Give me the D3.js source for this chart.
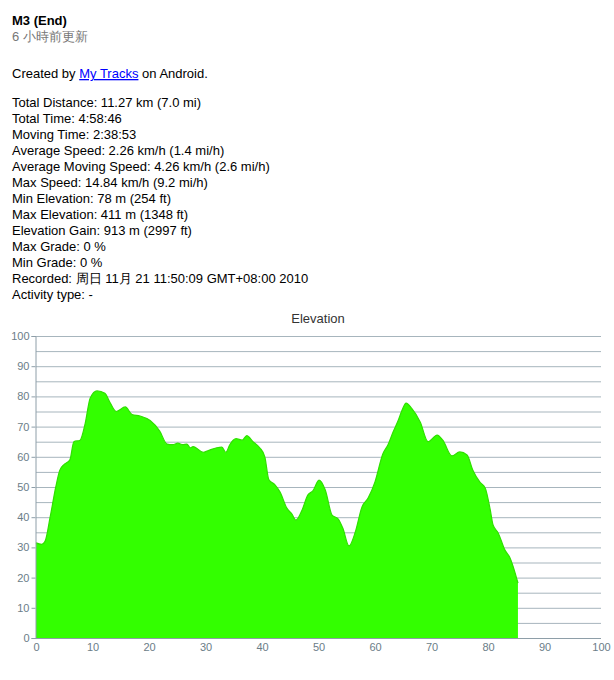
<!DOCTYPE html>
<html><head><meta charset="utf-8">
<script src="https://cdn.jsdelivr.net/npm/d3@7"></script>
<style>body{margin:0;background:#fff;} svg{display:block;}</style>
</head><body>
<svg id="c" width="614" height="680"></svg>
<script>
const title = "M3 (End)";
const subtitle = "6 小時前更新";
const statLines = [
  "Total Distance: 11.27 km (7.0 mi)",
  "Total Time: 4:58:46",
  "Moving Time: 2:38:53",
  "Average Speed: 2.26 km/h (1.4 mi/h)",
  "Average Moving Speed: 4.26 km/h (2.6 mi/h)",
  "Max Speed: 14.84 km/h (9.2 mi/h)",
  "Min Elevation: 78 m (254 ft)",
  "Max Elevation: 411 m (1348 ft)",
  "Elevation Gain: 913 m (2997 ft)",
  "Max Grade: 0 %",
  "Min Grade: 0 %",
  "Recorded: 周日 11月 21 11:50:09 GMT+08:00 2010",
  "Activity type: -"
];
const chartTitle = "Elevation";
const xTicks = [0,10,20,30,40,50,60,70,80,90,100];
const yTicks = [0,10,20,30,40,50,60,70,80,90,100];
const distance = [0,1,1.6,2.5,3.5,4.2,5,6,6.7,7.8,8.7,9.6,10.8,12.2,13.1,14.2,15.8,17,18.4,20.2,21.9,23.2,24.2,25.1,26,26.7,27.3,27.8,29.6,30.4,32,32.9,33.6,34.3,35.4,36.5,37.3,38.4,39.6,40.5,41.2,42.3,43.2,44.4,45.3,46,47.1,48.1,49,50.1,51.2,52.4,53.5,54.3,55.4,56.5,57.7,58.8,60,61.4,62.3,63.2,64.1,64.8,65.5,66.5,68,69.4,71,72,73.6,75,76.3,77.3,78.6,79.5,80.4,80.9,81.8,83,83.9,85.3];
const elevation = [31.5,31,32,40,50,55.5,57.5,59,65,65.5,71,79.5,81.8,81,78,75,76.5,74,73.5,72,68.5,64.2,64,64.5,64,64.2,63,63.4,61.5,62,63,63.2,61.5,64,66,65.5,67,65,63,60,52.5,50.7,48.3,43,41,39,42.4,47.3,48.7,52.3,49,40.7,39.4,36.4,30.5,35,43.4,46.4,51.7,61,64,68.2,72,75.5,77.8,76,71.5,65,67.2,65.5,60.3,61.6,60.6,55.6,51.5,49.7,42.4,37.4,34.8,29.1,26.5,18.2];

const svg = d3.select("#c");
const font = "Arial, 'Liberation Sans', sans-serif";

svg.append("text").attr("x",12).attr("y",25).attr("font-family",font).attr("font-size",13).attr("font-weight","bold").attr("fill","#000").text(title);
svg.append("text").attr("x",12).attr("y",41).attr("font-family",font).attr("font-size",13).attr("fill","#777").text(subtitle);

const cr = svg.append("text").attr("x",12).attr("y",78).attr("font-family",font).attr("font-size",13).attr("fill","#000");
cr.append("tspan").text("Created by ");
cr.append("tspan").attr("fill","#00f").attr("text-decoration","underline").text("My Tracks");
cr.append("tspan").text(" on Android.");

svg.append("g").selectAll("text").data(statLines).join("text")
  .attr("x",12).attr("y",(d,i)=>107+i*16)
  .attr("font-family",font).attr("font-size",13).attr("fill","#000").text(d=>d);

const x = d3.scaleLinear().domain([0,100]).range([36,601]);
const y = d3.scaleLinear().domain([0,100]).range([638,336]);

svg.append("text").attr("x",318).attr("y",323).attr("text-anchor","middle")
  .attr("font-family",font).attr("font-size",13).attr("fill","#333").text(chartTitle);

// gridlines every 5
const grid = d3.range(5,101,5);
svg.append("g").selectAll("line").data(grid).join("line")
  .attr("x1",x(0)).attr("x2",x(100)).attr("y1",d=>y(d)+0.5).attr("y2",d=>y(d)+0.5)
  .attr("stroke","#a7b5bd").attr("stroke-width",1);

const data = distance.map((d,i)=>({x:d,y:elevation[i]}));
const area = d3.area().x(d=>x(d.x)).y0(y(0)).y1(d=>y(d.y)).curve(d3.curveMonotoneX);
svg.append("path").datum(data).attr("d",area).attr("fill","#33ff00");
const line = d3.line().x(d=>x(d.x)).y(d=>y(d.y)).curve(d3.curveMonotoneX);
svg.append("path").datum(data).attr("d",line).attr("fill","none").attr("stroke","#2fe000").attr("stroke-width",1.2);

// axes
const yAxis = d3.axisLeft(y).tickValues(yTicks).tickSize(4).tickPadding(2);
const gy = svg.append("g").attr("transform",`translate(${x(0)-0.5},0)`).call(yAxis);
const xAxis = d3.axisBottom(x).tickValues(xTicks).tickSize(0).tickPadding(5);
const gx = svg.append("g").attr("transform",`translate(0,${y(0)+0.5})`).call(xAxis);
[gy,gx].forEach(g=>{
  g.selectAll(".domain").attr("stroke","#8e9ea8");
  g.selectAll(".tick line").attr("stroke","#8e9ea8");
  g.selectAll(".tick text").attr("fill","#6b7d88").attr("font-family",font).attr("font-size",11);
});
gx.select(".domain").attr("d",`M${x(0)},0H${x(100)}`);
</script>
</body></html>
